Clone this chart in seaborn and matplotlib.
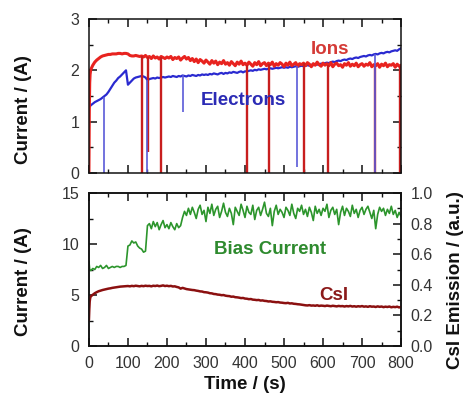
import numpy as np
import pandas as pd
import matplotlib
matplotlib.use("Agg")
import matplotlib.pyplot as plt
from matplotlib.ticker import MultipleLocator
import seaborn as sns

# ---------------- data ----------------
t_ion = np.concatenate([[0, 1, 2, 3, 4], np.arange(5, 801, 5)])
ions = [0.0, 1.2, 1.75, 1.92, 1.98,
        2.02, 2.10, 2.16, 2.20, 2.23, 2.26, 2.28, 2.29, 2.30, 2.31,
        2.31, 2.32, 2.32, 2.32, 2.33, 2.33, 2.32, 2.33, 2.33, 2.32,
        2.29, 2.28, 2.28, 2.29, 2.28, 2.27, 2.28, 2.26, 2.29, 2.25,
        2.27, 2.23, 2.28, 2.24, 2.26, 2.22, 2.27, 2.25, 2.23, 2.26,
        2.24, 2.27, 2.21, 2.25, 2.23, 2.26, 2.20, 2.24, 2.27, 2.22,
        2.25, 2.19, 2.23, 2.17, 2.22, 2.15, 2.21, 2.18, 2.14, 2.20,
        2.16, 2.12, 2.19, 2.14, 2.18, 2.11, 2.16, 2.13, 2.19, 2.12,
        2.15, 2.10, 2.17, 2.13, 2.09, 2.16, 2.12, 2.18, 2.11, 2.14,
        2.10, 2.16, 2.12, 2.08, 2.15, 2.11, 2.17, 2.09, 2.13, 2.15,
        2.09, 2.14, 2.11, 2.16, 2.08, 2.13, 2.10, 2.15, 2.12, 2.07,
        2.14, 2.10, 2.16, 2.09, 2.12, 2.15, 2.08, 2.13, 2.11, 2.14,
        2.09, 2.15, 2.12, 2.07, 2.13, 2.10, 2.16, 2.11, 2.08, 2.14,
        2.10, 2.13, 2.09, 2.15, 2.07, 2.12, 2.14, 2.09, 2.11, 2.06,
        2.13, 2.10, 2.15, 2.08, 2.12, 2.09, 2.14, 2.07, 2.11, 2.13,
        2.08, 2.12, 2.10, 2.15, 2.07, 2.11, 2.09, 2.13, 2.06, 2.12,
        2.09, 2.14, 2.07, 2.11, 2.10, 2.13, 2.06, 2.12, 2.08, 2.10]
ion_drop_t = [135, 152, 184, 404, 462, 550, 614, 734, 798]
ion_drop_to = [0.0, 0.4, 0.0, 0.0, 0.0, 0.0, 0.0, 0.0, 0.0]

t_el = np.arange(0, 801, 5)
electrons = [1.28, 1.32, 1.35, 1.38, 1.40, 1.42, 1.44, 1.47, 1.50, 1.53, 1.58,
             1.64, 1.70, 1.76, 1.80, 1.85, 1.88, 1.92, 1.96, 2.00, 1.72,
             1.76, 1.80, 1.84, 1.86, 1.87, 1.88, 1.89, 1.88, 1.86, 1.81,
             1.83, 1.84, 1.85, 1.84, 1.86, 1.85, 1.86, 1.87, 1.86, 1.87,
             1.88, 1.87, 1.89, 1.88, 1.87, 1.89, 1.88, 1.90, 1.89, 1.88,
             1.90, 1.89, 1.91, 1.90, 1.89, 1.91, 1.90, 1.92, 1.91, 1.92,
             1.91, 1.93, 1.92, 1.94, 1.93, 1.92, 1.94, 1.95, 1.93, 1.95,
             1.94, 1.96, 1.95, 1.97, 1.96, 1.95, 1.97, 1.98, 1.96, 1.98,
             1.98, 1.99, 2.00, 1.99, 2.01, 2.00, 2.02, 2.01, 2.02, 2.03,
             2.02, 2.03, 2.04, 2.03, 2.04, 2.05, 2.04, 2.05, 2.06, 2.05,
             2.06, 2.05, 2.07, 2.06, 2.07, 2.08, 2.07, 2.08, 2.09, 2.08,
             2.09, 2.10, 2.09, 2.11, 2.10, 2.12, 2.11, 2.12, 2.13, 2.13,
             2.14, 2.15, 2.14, 2.16, 2.17, 2.16, 2.18, 2.19, 2.18, 2.20,
             2.21, 2.20, 2.22, 2.23, 2.22, 2.24, 2.25, 2.24, 2.26, 2.27,
             2.28, 2.27, 2.29, 2.30, 2.29, 2.31, 2.32, 2.31, 2.33, 2.34,
             2.33, 2.35, 2.36, 2.35, 2.37, 2.38, 2.39, 2.38, 2.41, 2.43]
el_drop_t = [38, 150, 240, 532, 732]
el_drop_to = [0.0, 0.0, 1.19, 0.12, 0.0]

t_bias = np.concatenate([[0, 2], np.arange(5, 801, 5)])
bias = [8.3, 7.5,
        7.4, 7.6, 7.5, 7.8, 7.7, 7.9, 7.6, 7.7, 7.9, 7.6,
        7.7, 7.8, 7.7, 7.8, 7.8, 7.7, 7.8, 7.8, 7.9, 9.8,
        9.9, 10.3, 10.1, 10.2, 9.8, 9.6, 9.5, 9.2, 9.3, 11.8,
        12.0, 11.5, 12.2, 11.7, 12.1, 11.4, 11.9, 12.3, 11.6, 11.9,
        11.5, 12.1, 11.7, 11.4, 12.0, 11.6, 11.8, 12.6, 13.2, 12.8,
        13.5, 12.9, 13.6, 13.1, 12.5, 13.4, 13.8, 12.9, 13.3, 12.2,
        13.6, 13.0, 13.9, 12.8, 13.4, 13.7, 12.6, 13.2, 14.0, 13.1,
        12.7, 13.5, 13.0, 11.9, 13.6, 13.2, 12.8, 13.9, 13.3, 12.6,
        13.7, 13.1, 12.9, 13.8, 12.4, 13.3, 13.6, 12.8, 13.4, 14.1,
        13.0, 12.7, 13.5, 11.8, 13.2, 13.8, 12.9, 13.4, 13.1, 12.6,
        13.6, 13.3, 12.8, 13.9, 13.0, 12.5, 13.5, 13.2, 13.8, 12.9,
        13.4, 12.7, 13.6, 13.1, 12.3, 13.7, 13.0, 13.4, 12.8, 13.5,
        13.2, 13.9, 12.6, 13.3, 13.6, 12.9, 13.4, 11.9, 13.1, 13.7,
        12.8, 13.5, 13.2, 12.7, 13.8, 13.0, 13.4, 12.6, 13.3, 13.6,
        12.9, 13.4, 13.7, 13.1, 12.5, 13.3, 11.5, 12.9, 13.6, 13.2,
        13.5, 12.8, 13.4, 13.0, 13.7, 12.9, 13.3, 12.6, 13.1, 12.7]

t_csi = np.concatenate([[0, 1, 2, 3, 4], np.arange(5, 801, 5)])
csi = [0.17, 0.24, 0.29, 0.31, 0.32,
       0.325, 0.335, 0.345, 0.352, 0.358, 0.362, 0.366, 0.369, 0.372, 0.375,
       0.377, 0.380, 0.382, 0.384, 0.386, 0.388, 0.389, 0.390, 0.391, 0.392,
       0.390, 0.393, 0.391, 0.394, 0.392, 0.390, 0.393, 0.391, 0.394, 0.392,
       0.393, 0.390, 0.394, 0.392, 0.395, 0.391, 0.393, 0.396, 0.392, 0.394,
       0.391, 0.393, 0.389, 0.390, 0.386, 0.383, 0.375, 0.380, 0.376, 0.372,
       0.370, 0.368, 0.366, 0.365, 0.362, 0.360, 0.357, 0.356, 0.352, 0.351,
       0.349, 0.345, 0.344, 0.340, 0.339, 0.336, 0.335, 0.332, 0.333, 0.329,
       0.327, 0.326, 0.322, 0.323, 0.319, 0.318, 0.316, 0.313, 0.314, 0.310,
       0.309, 0.306, 0.307, 0.303, 0.302, 0.300, 0.301, 0.297, 0.298, 0.295,
       0.294, 0.291, 0.292, 0.289, 0.288, 0.286, 0.287, 0.284, 0.283, 0.281,
       0.280, 0.282, 0.278, 0.279, 0.276, 0.275, 0.273, 0.272, 0.270, 0.268,
       0.266, 0.265, 0.267, 0.264, 0.265, 0.263, 0.266, 0.262, 0.264, 0.263,
       0.261, 0.264, 0.262, 0.260, 0.263, 0.261, 0.259, 0.262, 0.260, 0.261,
       0.258, 0.261, 0.259, 0.262, 0.258, 0.260, 0.257, 0.260, 0.258, 0.261,
       0.257, 0.259, 0.256, 0.260, 0.257, 0.258, 0.255, 0.259, 0.256, 0.258,
       0.254, 0.257, 0.255, 0.258, 0.253, 0.256, 0.254, 0.257, 0.252, 0.256]

x_ticks = [0, 100, 200, 300, 400, 500, 600, 700, 800]

# ---------------- style ----------------
sns.set_theme(style="ticks")
plt.rcParams['font.family'] = ['Liberation Sans', 'DejaVu Sans']
plt.rcParams.update({
    'axes.linewidth': 1.1,
    'axes.edgecolor': '#111111',
    'xtick.direction': 'in', 'ytick.direction': 'in',
    'xtick.major.size': 5.5, 'ytick.major.size': 5.5,
    'xtick.minor.size': 3.0, 'ytick.minor.size': 3.0,
    'xtick.major.width': 1.1, 'ytick.major.width': 1.1,
    'xtick.minor.width': 1.0, 'ytick.minor.width': 1.0,
    'xtick.labelsize': 11.5, 'ytick.labelsize': 11.5,
    'xtick.color': '#111111', 'ytick.color': '#111111',
    'xtick.labelcolor': '#333333', 'ytick.labelcolor': '#333333',
})

RED = '#e8231f'
RED_D = '#c81e1e'
BLUE = '#2a2ad0'
BLUE_L = '#5a5ad8'
GREEN = '#2c952c'
CSI_C = '#8b1010'
LBL = dict(fontsize=13.5, fontweight='bold', color='#111111')

fig = plt.figure(figsize=(4.68, 4.0), dpi=100)
ax1 = fig.add_axes([0.190, 0.5675, 0.667, 0.385])
ax2 = fig.add_axes([0.190, 0.135, 0.667, 0.3825])

# ---- top panel ----
df_ion = pd.DataFrame({'t': t_ion, 'v': ions})
df_el = pd.DataFrame({'t': t_el, 'v': electrons})
sns.lineplot(data=df_el, x='t', y='v', ax=ax1, color=BLUE, lw=1.6, estimator=None)
sns.lineplot(data=df_ion, x='t', y='v', ax=ax1, color=RED, lw=2.2, estimator=None)
el_level = np.interp(el_drop_t, t_el, electrons)
ion_level = np.interp(ion_drop_t, t_ion, ions)
ax1.vlines(ion_drop_t, ion_drop_to, ion_level, color=RED_D, lw=1.7)
ax1.vlines(el_drop_t, el_drop_to, el_level, color=BLUE_L, lw=1.2)

ax1.set_xlim(0, 800)
ax1.set_ylim(0, 3)
ax1.set_xticks(x_ticks)
ax1.xaxis.set_minor_locator(MultipleLocator(50))
ax1.yaxis.set_major_locator(MultipleLocator(1))
ax1.yaxis.set_minor_locator(MultipleLocator(0.5))
ax1.tick_params(which='both', top=True, right=True, labelbottom=False)
ax1.tick_params(axis='y', pad=7)
ax1.set_xlabel('')
ax1.set_ylabel('Current / (A)', **LBL)
ax1.yaxis.label.set_va('center')
ax1.yaxis.set_label_coords(-0.208, 0.41)
ax1.text(617, 2.40, 'Ions', color='#d43a36', fontsize=13.5, fontweight='bold',
         ha='center', va='center')
ax1.text(395, 1.42, 'Electrons', color='#2b2bb5', fontsize=13.5, fontweight='bold',
         ha='center', va='center')

# ---- bottom panel ----
ax3 = ax2.twinx()
df_bias = pd.DataFrame({'t': t_bias, 'v': bias})
df_csi = pd.DataFrame({'t': t_csi, 'v': csi})
sns.lineplot(data=df_bias, x='t', y='v', ax=ax2, color=GREEN, lw=1.2, estimator=None)
sns.lineplot(data=df_csi, x='t', y='v', ax=ax3, color=CSI_C, lw=1.8, estimator=None)

ax2.set_xlim(0, 800)
ax2.set_ylim(0, 15)
ax2.set_xticks(x_ticks)
ax2.xaxis.set_minor_locator(MultipleLocator(50))
ax2.yaxis.set_major_locator(MultipleLocator(5))
ax2.yaxis.set_minor_locator(MultipleLocator(2.5))
ax2.tick_params(which='both', top=True, right=False)
ax2.tick_params(axis='y', pad=7)
ax2.tick_params(axis='x', pad=7)
ax2.set_xlabel('Time / (s)', **LBL)
ax2.set_ylabel('Current / (A)', **LBL)
ax2.yaxis.label.set_va('center')
ax2.yaxis.set_label_coords(-0.208, 0.42)

ax3.set_ylim(0, 1.0)
ax3.yaxis.set_major_locator(MultipleLocator(0.2))
ax3.yaxis.set_minor_locator(MultipleLocator(0.1))
ax3.yaxis.set_major_formatter(matplotlib.ticker.FormatStrFormatter('%.1f'))
ax3.tick_params(which='both', right=True, direction='in')
ax3.tick_params(axis='y', pad=7)
ax3.set_ylabel('CsI Emission / (a.u.)', rotation=90, **LBL)
ax3.yaxis.label.set_va('center')
ax3.yaxis.set_label_coords(1.175, 0.43)
ax3.set_xlabel('')

ax2.text(465, 9.5, 'Bias Current', color='#2e8a2e', fontsize=13.5, fontweight='bold',
         ha='center', va='center')
ax3.text(628, 0.333, 'CsI', color='#8b1a1a', fontsize=13.5, fontweight='bold',
         ha='center', va='center')

for a in (ax1, ax2, ax3):
    for s in a.spines.values():
        s.set_visible(True)
        s.set_linewidth(1.1)

fig.savefig('out.png', dpi=100)
